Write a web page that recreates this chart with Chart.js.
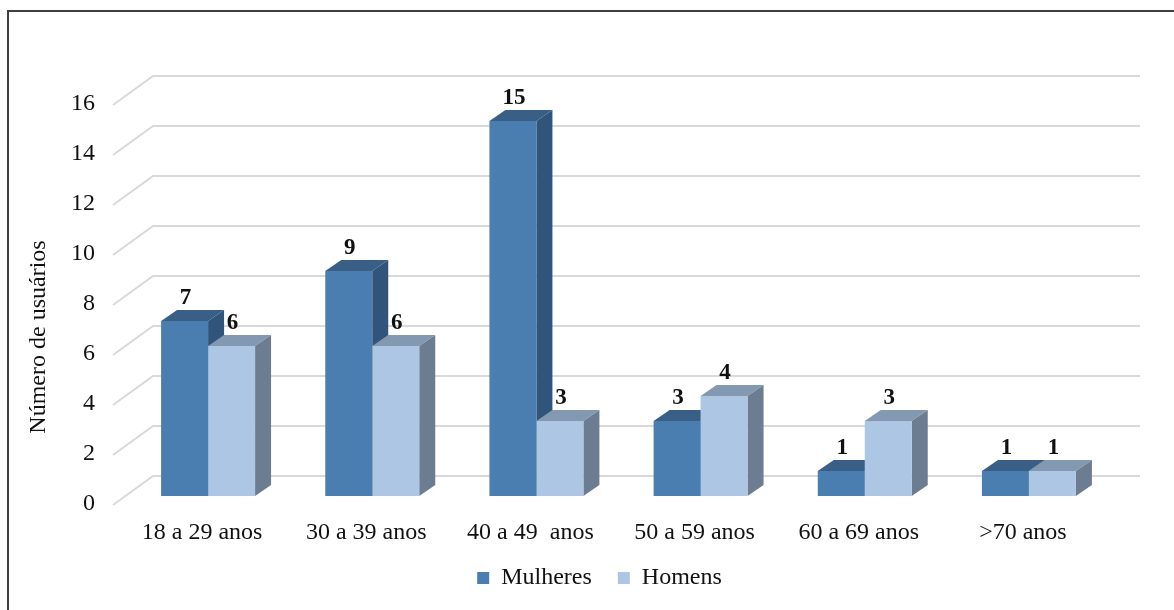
<!DOCTYPE html>
<html>
<head>
<meta charset="utf-8">
<script src="https://cdn.jsdelivr.net/npm/chart.js@4.4.0/dist/chart.umd.min.js"></script>
<style>
  html, body { margin: 0; padding: 0; background: #fff; overflow: hidden; }
  #wrap { position: relative; width: 1174px; height: 610px; overflow: hidden; }
  #frame { position: absolute; left: 7px; top: 10px; width: 1300px; height: 700px;
           border-left: 2px solid #3f3f3f; border-top: 2px solid #3f3f3f; }
  canvas { position: absolute; left: 0; top: 0; }
</style>
</head>
<body>
<div id="wrap">
  <div id="frame"></div>
  <canvas id="chart" width="1174" height="610"></canvas>
</div>
<script>
const categories = ['18 a 29 anos', '30 a 39 anos', '40 a 49  anos', '50 a 59 anos', '60 a 69 anos', '>70 anos'];
const mulheres = [7, 9, 15, 3, 1, 1];
const homens = [6, 6, 3, 4, 3, 1];
const yTitle = 'Número de usuários';

// 3D offsets (pixels)
const DX = 16, DY = 11;       // bar depth
const WALL_X = 27, WALL_Y = 20; // back wall
const FLOOR_X = 13, FLOOR_Y = 9; // front edge of the side wall
const TEXT = '#111';

Chart.defaults.font.family = "'Liberation Serif', 'Times New Roman', serif";

const threeD = {
    id: 'threeD',
    afterLayout(chart) {
        // legend sits a bit right of the canvas centre in the original
        chart.legend.left += 88;
    },
    beforeDatasetsDraw(chart) {
        const { ctx, chartArea: a, scales: { y } } = chart;
        ctx.save();
        ctx.strokeStyle = '#d9d9d9';
        ctx.lineWidth = 2;
        y.ticks.forEach(t => {
            const p = y.getPixelForValue(t.value);
            ctx.beginPath();
            ctx.moveTo(a.left - FLOOR_X, p + FLOOR_Y);
            ctx.lineTo(a.left + WALL_X, p - WALL_Y);
            ctx.lineTo(a.right + 29, p - WALL_Y);
            ctx.stroke();
        });

        // top and side faces, front faces are the real bars drawn after this
        chart.data.datasets.forEach((ds, i) => {
            chart.getDatasetMeta(i).data.forEach(bar => {
                const l = bar.x - bar.width / 2, r = bar.x + bar.width / 2;
                const t = bar.y, b = bar.base;
                ctx.fillStyle = ds.topColor;
                ctx.beginPath();
                ctx.moveTo(l, t); ctx.lineTo(l + DX, t - DY); ctx.lineTo(r + DX, t - DY); ctx.lineTo(r, t);
                ctx.closePath();
                ctx.fill();
                ctx.fillStyle = ds.sideColor;
                ctx.beginPath();
                ctx.moveTo(r, t); ctx.lineTo(r + DX, t - DY); ctx.lineTo(r + DX, b - DY); ctx.lineTo(r, b);
                ctx.closePath();
                ctx.fill();
            });
        });
        ctx.restore();
    },
    afterDatasetsDraw(chart) {
        const { ctx } = chart;
        ctx.save();
        ctx.fillStyle = TEXT;
        ctx.textAlign = 'center';
        ctx.textBaseline = 'alphabetic';
        ctx.font = "bold 23px 'Liberation Serif'";
        chart.data.datasets.forEach((ds, i) => {
            chart.getDatasetMeta(i).data.forEach((bar, j) => {
                ctx.fillText(String(ds.data[j]), bar.x + 1, bar.y - 17);
            });
        });

        // y axis title
        ctx.font = "24px 'Liberation Serif'";
        ctx.textBaseline = 'middle';
        ctx.translate(39, 337);
        ctx.rotate(-Math.PI / 2);
        ctx.fillText(yTitle, 0, 0);
        ctx.restore();
    }
};

new Chart(document.getElementById('chart').getContext('2d'), {
    type: 'bar',
    data: {
        labels: categories,
        datasets: [
            {
                label: 'Mulheres',
                data: mulheres,
                backgroundColor: '#4a7eb1',
                topColor: '#3a5f87',
                sideColor: '#31547a',
                categoryPercentage: 0.5725,
                barPercentage: 1.0
            },
            {
                label: 'Homens',
                data: homens,
                backgroundColor: '#adc6e4',
                topColor: '#8399b2',
                sideColor: '#6c7d92',
                categoryPercentage: 0.5725,
                barPercentage: 1.0
            }
        ]
    },
    options: {
        responsive: false,
        animation: false,
        devicePixelRatio: 1,
        layout: { padding: { top: 96, right: 63, left: 0, bottom: 10 } },
        plugins: {
            legend: {
                position: 'bottom',
                labels: {
                    font: { size: 24 },
                    color: TEXT,
                    boxWidth: 12,
                    boxHeight: 12,
                    padding: 26
                }
            },
            tooltip: { enabled: true }
        },
        scales: {
            x: {
                grid: { display: false, drawTicks: false },
                border: { display: false },
                ticks: {
                    font: { size: 24 },
                    color: TEXT,
                    padding: 22,
                    labelOffset: -6,
                    maxRotation: 0,
                    autoSkip: false
                },
                afterFit(s) { s.height = 44; }
            },
            y: {
                min: 0,
                max: 16,
                grid: { display: false, drawTicks: false },
                border: { display: false },
                ticks: {
                    stepSize: 2,
                    font: { size: 24 },
                    color: TEXT,
                    padding: 31,
                    labelOffset: 8
                },
                afterFit(s) { s.width = 126; }
            }
        }
    },
    plugins: [threeD]
});
</script>
</body>
</html>
